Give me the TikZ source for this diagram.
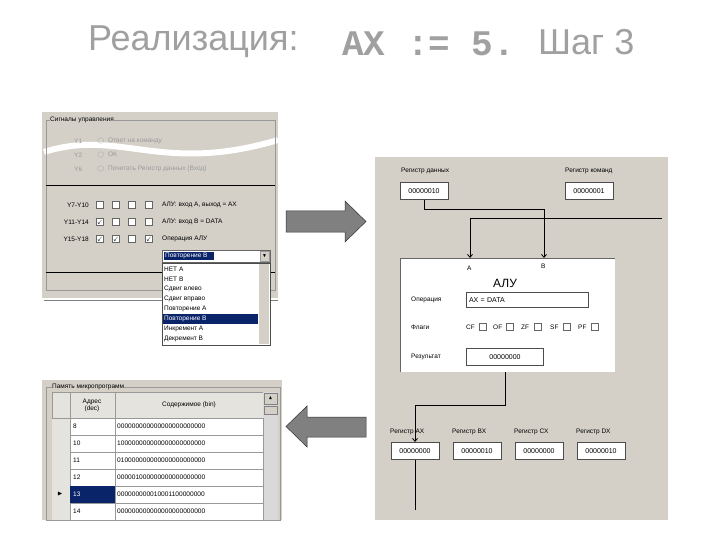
\documentclass[tikz,border=0pt]{standalone}
\usepackage{amssymb}
\usepackage{fontspec}
\setmainfont{Liberation Sans}
\newfontfamily\monof{Liberation Mono}
\usetikzlibrary{arrows.meta}
\definecolor{win}{HTML}{D4D0C8}
\definecolor{titg}{HTML}{A0A0A0}
\definecolor{navy}{HTML}{0A246A}
\definecolor{dim}{HTML}{9A9A9A}
\tikzset{
 lbl/.style={font=\fontsize{6.5}{7}\selectfont,anchor=west,inner sep=0pt},
 dlbl/.style={lbl,text=dim},
 fld/.style={draw=black!70,fill=white,minimum height=17pt,minimum width=48pt,font=\fontsize{7}{8}\selectfont,inner sep=1pt},
 cb/.style={draw=black!60,fill=white,minimum size=7pt,inner sep=0pt,font=\fontsize{6}{6}\selectfont},
 wire/.style={line width=0.8pt},
 tip/.style={wire,-{Straight Barb[length=3pt,width=5pt]}},
 blk/.style={fill=black!50,draw=black!80,line width=0.5pt},
 ttl/.style={text=titg,font=\fontsize{36}{38}\selectfont,anchor=west,inner sep=0pt}
}
\begin{document}
\begin{tikzpicture}[x=1pt,y=-1pt]
\useasboundingbox (0,0) rectangle (720,540);
\fill[white] (0,0) rectangle (720,540);
% title
\node[ttl] (t1) at (88,42) {Реализация:};
\node[ttl,font=\monof\bfseries\fontsize{36}{38}\selectfont] (t2) at (342,44) {AX := 5.};
\node[ttl] (t3) at (538,42) {Шаг 3};
% ---------- top-left panel
\fill[win] (42,112) rectangle (278,298);
\draw[black!50] (44,300) -- (278,300);
\draw[white,line width=6pt] (44,152) .. controls (120,128) and (160,175) .. (278,140);
\draw[black!40] (46,120) rectangle (275,290);
\node[lbl,fill=win] (sig) at (50,120) {Сигналы управления};
\node[dlbl] (y1) at (74,141) {Y1}; \node[dlbl] (r1) at (97,141) {$\bigcirc$\ \ Ответ на команду};
\node[dlbl] (y2) at (74,155) {Y2}; \node[dlbl] (r2) at (97,155) {$\bigcirc$\ \ OK};
\node[dlbl] (y6) at (74,169) {Y6}; \node[dlbl] (r6) at (97,169) {$\bigcirc$\ \ Почитать Регистр данных (Вход)};
\draw[black,line width=0.8pt] (46,185) -- (275,185);
\draw[black,line width=0.8pt] (46,272) -- (275,272);
\node[lbl,anchor=east] (ya) at (89,205) {Y7-Y10};
\node[lbl,anchor=east] (yb) at (89,222) {Y11-Y14};
\node[lbl,anchor=east] (yc) at (89,239) {Y15-Y18};
\foreach \x/\a/\b/\c in {100/ /$\checkmark$/$\checkmark$,116/ / /$\checkmark$,132/ / / ,149/ / /$\checkmark$}{
 \node[cb] at (\x,205) {\a}; \node[cb] at (\x,222) {\b}; \node[cb] at (\x,239) {\c};}
\node[lbl] (oa) at (162,205) {АЛУ: вход A, выход = AX};
\node[lbl] (ob) at (162,222) {АЛУ: вход B = DATA};
\node[lbl] (oc) at (162,239) {Операция АЛУ};
\draw[black!60,fill=white] (162,250) rectangle (270,262);
\fill[navy] (164,252) rectangle (214,260);
\node[lbl,text=white] (dd) at (165,256) {Повторение B};
\draw[black!40,fill=win] (260,251) rectangle (269,261);
\node[font=\fontsize{5}{5}\selectfont] at (264.5,256) {$\blacktriangledown$};
\draw[black!70,fill=white] (162,263) rectangle (270,345);
\fill[win] (259,264) rectangle (269,344);
\fill[navy] (163,314) rectangle (258,324);
\foreach \t [count=\i] in {НЕТ A,НЕТ B,Сдвиг влево,Сдвиг вправо,Повторение A,Повторение B,Инкремент A,Декремент B}{
 \ifnum\i=6 \node[lbl,text=white] at (164,259+10*\i) {\t};
 \else \node[lbl] at (164,259+10*\i) {\t}; \fi}
% block arrows
\draw[blk] (286,211) -- (345,211) -- (345,201) -- (366,221.5) -- (345,242) -- (345,232) -- (286,232) -- cycle;
\draw[blk] (366,417) -- (307,417) -- (307,406) -- (286,426.5) -- (307,447) -- (307,437) -- (366,437) -- cycle;
% ---------- right panel
\fill[win] (375,157) rectangle (668,520);
\node[lbl] (ld) at (401,171) {Регистр данных};
\node[lbl] (lc) at (565,171) {Регистр команд};
\node[fld] (rd) at (424,191) {00000010};
\node[fld] (rc) at (589,191) {00000001};
\fill[white] (400,258) rectangle (615,372);
\draw[black!60] (400,372) -- (400,258) -- (615,258);
\node[lbl] (la) at (467,268) {A};
\node[lbl] (lb) at (541,266) {B};
\coordinate (ina) at (470,258);
\coordinate (inb) at (544,258);
\coordinate (ext) at (662,218);
\draw[tip] (rd.south) -- ++(0,10) -| (inb);
\draw[tip] (ext) -| (ina);
\node[font=\fontsize{12}{12}\selectfont] (alu) at (505,283) {АЛУ};
\node[lbl] (lop) at (411,300) {Операция};
\node[fld,minimum width=122pt,minimum height=15pt,text width=116pt,align=left] (op) at (527,300) {AX = DATA};
\node[lbl] (lf) at (411,327) {Флаги};
\foreach \f/\x in {CF/466,OF/493,ZF/521,SF/550,PF/578}{
 \node[lbl] at (\x,327) {\f}; \draw[black!60,fill=white] (\x+13,323) rectangle (\x+20,330);}
\node[lbl] (lr) at (411,357) {Результат};
\node[fld,minimum width=77pt] (res) at (505,357) {00000000};
% registers
\foreach \n/\x in {AX/390,BX/452,CX/514,DX/576}{
 \node[lbl] (l\n) at (\x,432) {Регистр \n};}
\node[fld] (rax) at (415,451) {00000000};
\node[fld] (rbx) at (477,451) {00000010};
\node[fld] (rcx) at (539,451) {00000000};
\node[fld] (rdx) at (601,451) {00000010};
\coordinate (axin) at (415,442);
\coordinate (axout) at (415,510);
\draw[tip] (res.south |- 0,372) -- (505,405) -- (415,405) -- (axin);
\draw[wire] (rax.south) -- (axout);
% ---------- table panel
\fill[win] (42,380) rectangle (282,520);
\draw[black!40] (46,387) rectangle (280,520);
\node[lbl,fill=win] (mem) at (52,387) {Память микропрограмм};
\fill[win!60!white] (52,392) rectangle (278,520);
\draw[black!40] (52,392) rectangle (263,418);
\draw[black!40] (70,392) -- (70,520);
\draw[black!40] (115,392) -- (115,520);
\node[font=\fontsize{6.5}{7}\selectfont,align=center] (ha) at (92,405) {Адрес\\(dec)};
\node[font=\fontsize{6.5}{7}\selectfont] (hc) at (189,405) {Содержимое (bin)};
\fill[black!15] (263,392) rectangle (278,520);
\draw[black!50,fill=win] (264,393) rectangle (277,404);
\node[font=\fontsize{5}{5}\selectfont] at (270.5,398.5) {$\blacktriangle$};
\draw[black!50,fill=win] (264,406) rectangle (277,414);
\foreach \a/\c [count=\i] in {8/000000000000000000000000,10/100000000000000000000000,11/010000000000000000000000,12/000001000000000000000000,13/000000000010001100000000,14/000000000000000000000000}{
 \pgfmathsetmacro\yy{418+17*(\i-1)}
 \draw[black!40,fill=white] (70,\yy) rectangle (263,\yy+17);
 \draw[black!40] (115,\yy) -- (115,\yy+17);
 \ifnum\i=5
  \fill[navy] (70,\yy) rectangle (115,\yy+17);
  \node[lbl,text=white] at (73,\yy+8.5) {\a};
  \node[font=\fontsize{6}{6}\selectfont] at (60,\yy+8.5) {$\blacktriangleright$};
 \else \node[lbl] at (73,\yy+8.5) {\a}; \fi
 \node[lbl,font=\fontsize{6.6}{7}\selectfont] at (117,\yy+8.5) {\c};}
\end{tikzpicture}
\end{document}
